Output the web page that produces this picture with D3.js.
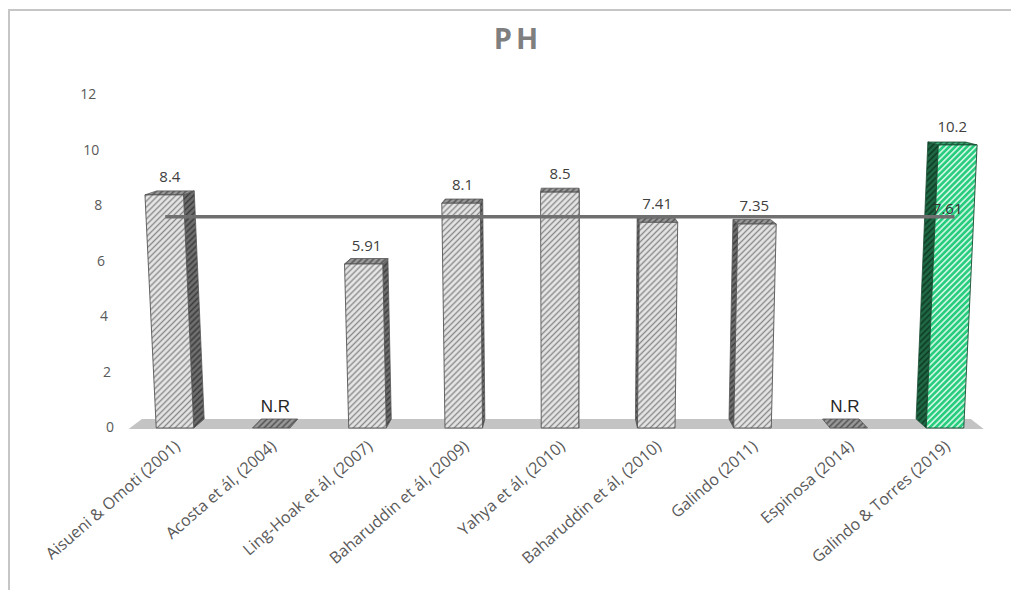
<!DOCTYPE html>
<html lang="en">

<head>
    <meta charset="UTF-8">
    <script src="https://d3js.org/d3.v7.min.js"></script>
    <title>PH</title>
    <style>
        body { margin: 0; background: #fff; }
    </style>
</head>

<body>
    <svg id="mainsvg" width="1011" height="590"></svg>

    <script>
        // data
        const categories = ['Aisueni & Omoti (2001)', 'Acosta et ál, (2004)', 'Ling-Hoak et ál, (2007)',
            'Baharuddin et ál, (2009)', 'Yahya et ál, (2010)', 'Baharuddin et ál, (2010)',
            'Galindo (2011)', 'Espinosa (2014)', 'Galindo & Torres (2019)']
        const values = [8.4, 0, 5.91, 8.1, 8.5, 7.41, 7.35, 0, 10.2]
        const valueLabels = ['8.4', 'N.R', '5.91', '8.1', '8.5', '7.41', '7.35', 'N.R', '10.2']
        const meanValues = [7.61, 7.61, 7.61, 7.61, 7.61, 7.61, 7.61, 7.61, 7.61]
        const meanLabel = '7.61'
        const yTicks = [0, 2, 4, 6, 8, 10, 12]
        const highlight = 'Galindo & Torres (2019)'

        const svg = d3.select('#mainsvg')
        const width = +svg.attr('width')
        const height = +svg.attr('height')

        const xScale = d3.scalePoint().domain(categories).range([175, 945])
        const yScale = d3.scaleLinear().domain([0, 12]).range([428, 95])
        const barW = xScale.step() * 0.39

        // fake 3d: verticals spread slightly upward, depth goes toward the centre
        const cx = 565, y0 = yScale(0), V = y0 + 8460, kd = 0.028, kv = 0.0215, eyeY = 9
        const P = (x, y, z = 0) => {
            let px = cx + (x - cx) * (V - y) / (V - y0)
            px += (cx - px) * kd * z
            const py = y - kv * (y - eyeY) * z
            return [px, py]
        }
        const poly = pts => 'M' + pts.map(p => P(...p).join(',')).join('L') + 'Z'

        // hatch patterns
        const defs = svg.append('defs')
        const hatch = (id, bg, fg, w) => {
            const p = defs.append('pattern').attr('id', id)
                .attr('patternUnits', 'userSpaceOnUse')
                .attr('width', 4.2).attr('height', 4.2)
                .attr('patternTransform', 'rotate(45)')
            p.append('rect').attr('width', 4.2).attr('height', 4.2).attr('fill', bg)
            p.append('line').attr('x1', 2.1).attr('x2', 2.1).attr('y1', 0).attr('y2', 4.2)
                .attr('stroke', fg).attr('stroke-width', w)
        }
        hatch('grayFront', '#e6e6e6', '#8a8a8a', 1.4)
        hatch('grayTop', '#9a9a9a', '#555', 1.6)
        hatch('graySide', '#707070', '#3c3c3c', 1.6)
        hatch('greenFront', '#c9f5de', '#27cc7e', 2.5)
        hatch('greenTop', '#3aa873', '#1d5e3e', 1.6)
        hatch('greenSide', '#1f6a45', '#0e3a25', 1.6)

        // frame
        svg.append('rect').attr('x', 9).attr('y', 10).attr('width', width).attr('height', height)
            .attr('fill', 'none').attr('stroke', '#c6c6c6').attr('stroke-width', 2)

        // title
        svg.append('text').attr('x', 518).attr('y', 49)
            .attr('text-anchor', 'middle')
            .style('font-family', '"Open Sans", sans-serif').style('font-weight', 'bold')
            .style('font-size', '29px').style('letter-spacing', '4px')
            .attr('fill', '#7f7f7f').text('PH')

        // floor
        const fx0 = xScale.range()[0] - xScale.step() * 0.47
        const fx1 = xScale.range()[1] + xScale.step() * 0.39
        svg.append('path')
            .attr('d', poly([[fx0, y0, -0.1], [fx1, y0, -0.1], [fx1, y0, 1], [fx0, y0, 1]]))
            .attr('fill', '#c4c4c4')

        // y axis (labels only), shifted with the perspective
        const axisX = 114
        const yAxis = svg.append('g')
            .call(d3.axisLeft(yScale).tickValues(yTicks).tickSize(0).tickPadding(0))
        yAxis.select('.domain').remove()
        yAxis.selectAll('.tick')
            .attr('transform', d => `translate(${P(axisX, yScale(d))[0]},${yScale(d)})`)
        yAxis.selectAll('text')
            .style('font-family', '"Open Sans", sans-serif').style('font-size', '14px')
            .attr('fill', '#595959')

        // bars
        const bars = svg.append('g').selectAll('g').data(categories).enter().append('g')
        bars.each(function (c, i) {
            const g = d3.select(this)
            const v = values[i]
            const xc = xScale(c)
            const x0 = xc - barW / 2, x1 = xc + barW / 2
            const yt = yScale(v)
            const green = c === highlight
            const stroke = green ? '#1a4d33' : '#555'
            const sx = xc < cx ? x1 : x0
            if (v > 0) {
                g.append('path')
                    .attr('d', poly([[sx, y0, 0], [sx, yt, 0], [sx, yt, 1], [sx, y0, 1]]))
                    .attr('fill', green ? 'url(#greenSide)' : 'url(#graySide)')
                    .attr('stroke', stroke).attr('stroke-width', 0.8)
            }
            g.append('path')
                .attr('d', poly([[x0, yt, 0], [x1, yt, 0], [x1, yt, 1], [x0, yt, 1]]))
                .attr('fill', green ? 'url(#greenTop)' : 'url(#grayTop)')
                .attr('stroke', stroke).attr('stroke-width', 0.8)
            if (v > 0) {
                g.append('path')
                    .attr('d', poly([[x0, y0, 0], [x1, y0, 0], [x1, yt, 0], [x0, yt, 0]]))
                    .attr('fill', green ? 'url(#greenFront)' : 'url(#grayFront)')
                    .attr('stroke', stroke).attr('stroke-width', 0.9)
            }
        })

        // value labels
        svg.append('g').selectAll('text').data(categories).enter().append('text')
            .attr('x', (c, i) => P(xScale(c), yScale(values[i]), 0.5)[0])
            .attr('y', (c, i) => values[i] > 0 ? yScale(values[i]) - 13 : y0 - 16)
            .attr('text-anchor', 'middle')
            .style('font-family', (c, i) => values[i] > 0 ? '"Open Sans", sans-serif' : '"Liberation Sans", Arial, sans-serif')
            .style('font-size', (c, i) => values[i] > 0 ? '15px' : '17px')
            .attr('fill', (c, i) => values[i] > 0 ? '#404040' : '#262626')
            .text((c, i) => valueLabels[i])

        // mean line
        const line = d3.line()
            .x((d, i) => P(xScale(categories[i]), yScale(d))[0])
            .y(d => yScale(d))
        svg.append('path').datum(meanValues)
            .attr('d', line)
            .attr('fill', 'none').attr('stroke', '#6f6f6f').attr('stroke-width', 3.5)
        const last = meanValues.length - 1
        svg.append('text')
            .attr('x', P(xScale(categories[last]), yScale(meanValues[last]))[0] + 8)
            .attr('y', yScale(meanValues[last]) - 3)
            .attr('text-anchor', 'end')
            .style('font-family', '"Open Sans", sans-serif').style('font-size', '15px')
            .attr('fill', '#333').text(meanLabel)

        // category labels
        svg.append('g').selectAll('text').data(categories).enter().append('text')
            .attr('transform', c => `translate(${xScale(c) + 6},${y0 + 20}) rotate(-41)`)
            .attr('text-anchor', 'end')
            .style('font-family', '"Open Sans", sans-serif').style('font-size', '16px')
            .attr('fill', '#595959')
            .text(c => c)
    </script>
</body>

</html>
